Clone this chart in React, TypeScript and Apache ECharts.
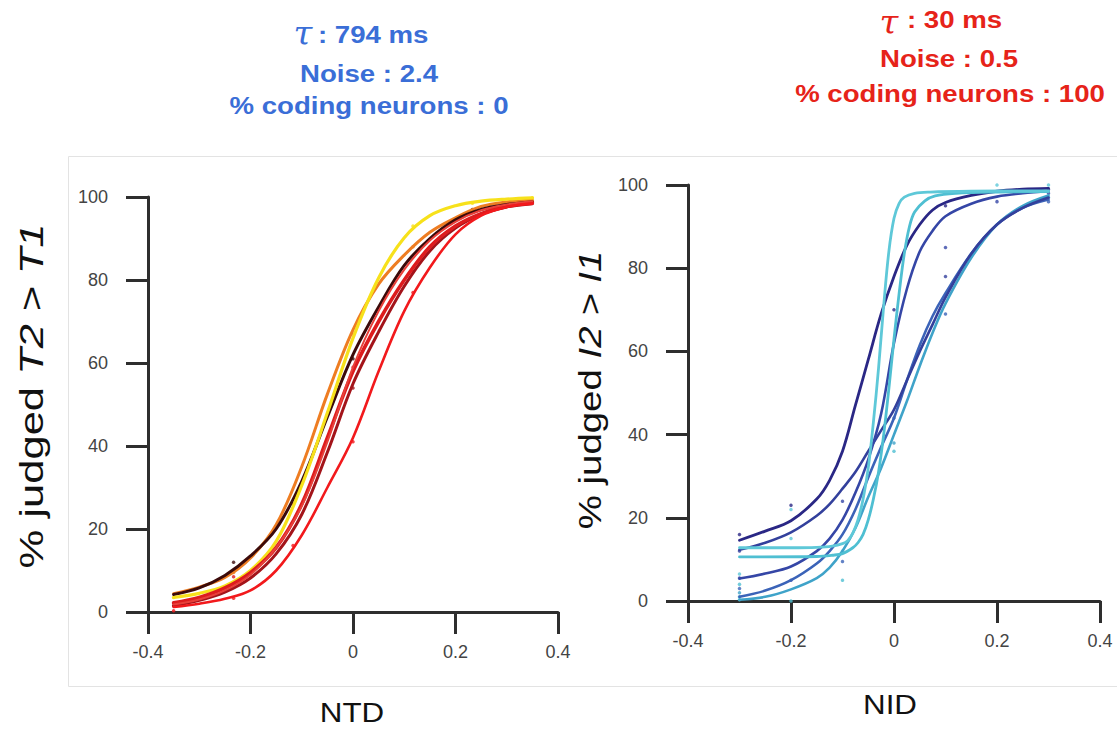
import React, { useEffect, useRef } from "react";
import * as echarts from "echarts";

// ---------------- data ----------------
const xTickLabels = ["-0.4", "-0.2", "0", "0.2", "0.4"];

// Left panel (NTD) – fitted curves sampled every 0.05
const ntdX = [-0.35, -0.3, -0.25, -0.2, -0.15, -0.1, -0.05, 0, 0.05, 0.1, 0.15, 0.2, 0.25, 0.3, 0.35];
const ntdOrange = [4.4, 6, 8.3, 13, 21, 35, 52.5, 68, 79, 86, 91.5, 95, 97.7, 98.8, 99.2];
const ntdBrown = [4.2, 5.8, 8.8, 13.5, 20, 31.5, 47, 62, 73.5, 83.5, 90, 94.5, 97, 98.2, 98.8];
const ntdYellow = [3.5, 4.5, 6.3, 10, 17, 30.5, 48, 66, 80.5, 90.2, 95.5, 97.9, 99, 99.5, 99.8];
const ntdMaroon = [1.5, 2.8, 4.8, 8.2, 14, 23.5, 38.5, 55, 67.5, 78.5, 87, 92.5, 95.8, 97.6, 98.4];
const ntdRed = [2.2, 3.5, 5.8, 9.5, 15.5, 26, 42, 58, 70, 80, 88, 93, 96, 97.8, 98.6];
const ntdThinRed = [1.8, 3, 5.2, 9, 15.5, 25.5, 41, 59, 72.5, 82.5, 89.5, 94, 96.8, 98.2, 99];
const ntdBrightRed = [1.2, 2, 3.2, 5.2, 10, 18.5, 30, 42, 58, 72.5, 83, 91, 95.5, 97.6, 98.4];

// Left panel raw points
const ntdDotX = [-0.35, -0.35, -0.35, -0.233, -0.233, -0.233, -0.233, -0.117, -0.117, 0, 0, 0, 0, 0, 0.117, 0.117, 0.117, 0.117, 0.233, 0.233, 0.35, 0.35];
const ntdDotY = [0.3, 3.5, 1.5, 12, 9.5, 8.5, 3.3, 26, 16, 67, 61, 59, 54, 41, 93, 88, 82, 77, 98.5, 97, 99.8, 99];
const ntdDotCurve = [6, 2, 3, 1, 0, 4, 6, 4, 6, 0, 1, 4, 3, 6, 2, 0, 4, 6, 2, 1, 2, 0];

// Right panel (NID) – gentle curves sampled on a shared grid
const nidX = [-0.3, -0.25, -0.2, -0.15, -0.125, -0.1, -0.075, -0.05, -0.025, 0, 0.025, 0.05, 0.075, 0.1, 0.15, 0.2, 0.25, 0.3];
const nidNavyA = [14.6, 16.8, 19.3, 24.5, 29, 36, 47, 58, 69, 78, 85.5, 90.5, 94, 95.8, 97.5, 98.5, 99, 99.2];
const nidNavyB = [12.3, 14, 16.5, 20.5, 23.3, 27, 31, 36, 41, 46, 53, 60, 66.5, 73, 83.5, 90.5, 94.5, 97];
const nidBlueE = [5.4, 6.6, 8.3, 12, 15, 19.5, 26, 34, 45, 62, 75, 84, 89, 92.5, 95.5, 97.2, 98, 98.5];
const nidBlueF = [1.0, 2.5, 5, 9, 12, 16, 22, 29.7, 37, 44, 53, 61.5, 68.5, 74, 83.5, 90.5, 94.5, 96.5];
const nidTealG = [0.3, 1, 2.8, 5.5, 8, 12, 17.5, 25, 32, 40, 48, 56.5, 64.5, 71.5, 82.5, 90.5, 95, 97.5];
// Right panel – steep cyan curves, [x, y] pairs
const nidCyanC = [[-0.3, 12.8], [-0.2, 12.8], [-0.15, 12.9], [-0.12, 13.2], [-0.1, 13.8], [-0.09, 14.5], [-0.08, 16.3], [-0.07, 19.5], [-0.06, 24.5], [-0.05, 32], [-0.04, 43], [-0.03, 56], [-0.02, 71], [-0.01, 84], [0, 92], [0.01, 95.6], [0.02, 97.1], [0.04, 98], [0.07, 98.3], [0.15, 98.5], [0.3, 98.6]];
const nidCyanD = [[-0.3, 10.6], [-0.15, 10.7], [-0.12, 11], [-0.1, 11.4], [-0.08, 12.8], [-0.07, 14], [-0.06, 16], [-0.05, 19.5], [-0.04, 24.5], [-0.03, 31], [-0.02, 40], [-0.01, 51], [0, 63], [0.01, 74], [0.02, 83.5], [0.03, 90], [0.04, 93.5], [0.06, 96.2], [0.08, 97.4], [0.12, 98], [0.2, 98.3], [0.3, 98.4]];

// Right panel raw points
const nidDotX = [-0.3, -0.3, -0.3, -0.3, -0.3, -0.3, -0.3, -0.3, -0.3, -0.2, -0.2, -0.2, -0.2, -0.2, -0.1, -0.1, -0.1, -0.1, 0, 0, 0, 0, 0.1, 0.1, 0.1, 0.1, 0.2, 0.2, 0.3, 0.3, 0.3, 0.3, 0.3];
const nidDotY = [16, 12, 6.5, 5.5, 4, 3, 2, 1, 0.3, 23, 22, 15, 5, 0, 24, 12, 9.5, 5, 70, 44, 38, 36, 95, 85, 78, 69, 100, 96, 100, 99, 98, 97, 96];
const nidDotCurve = [0, 1, 5, 2, 6, 3, 4, 4, 6, 0, 5, 5, 2, 6, 2, 5, 3, 6, 0, 3, 4, 6, 0, 2, 1, 3, 5, 2, 5, 0, 2, 4, 3];

// ---------------- styles ----------------
const leftColors = ["#ee7d22", "#3b0a0a", "#f7e11b", "#a3141a", "#dd1c1e", "#e8403a", "#f2191c"];
const leftWidths = [3, 3, 3.2, 3, 3.6, 2, 2.6];
const rightColors = ["#2a2785", "#33409c", "#3546a6", "#3b63b8", "#3fa3c9", "#5ec8d8", "#4fbfd2"];
const rightWidths = [2.8, 2.6, 2.6, 2.6, 2.6, 2.8, 2.8];

const AXIS = "#2e2e2e";
const SANS = "Liberation Sans, Arial, Helvetica, sans-serif";
const BLUE = "#3a6ed7";
const RED = "#e62319";

function pairs(xs: number[], ys: number[]) {
  return xs.map((x, i) => [x, ys[i]]);
}

function lineSeries(data: number[][], color: string, width: number, idx: number) {
  return {
    type: "line",
    xAxisIndex: idx,
    yAxisIndex: idx,
    data,
    smooth: 0.35,
    showSymbol: false,
    silent: true,
    lineStyle: { color, width, cap: "round", join: "round" },
  };
}

function dotSeries(xs: number[], ys: number[], curveIdx: number[], colors: string[], idx: number) {
  return {
    type: "scatter",
    xAxisIndex: idx,
    yAxisIndex: idx,
    symbolSize: 3.5,
    silent: true,
    data: xs.map((x, i) => ({ value: [x, ys[i]], itemStyle: { color: colors[curveIdx[i]] } })),
  };
}

function xAxis(idx: number) {
  return {
    gridIndex: idx,
    type: "value",
    min: -0.4,
    max: 0.4,
    interval: 0.2,
    axisLine: { show: true, onZero: false, lineStyle: { color: AXIS, width: 3 } },
    axisTick: { show: true, length: 22, lineStyle: { color: AXIS, width: 3 } },
    axisLabel: {
      color: "#444",
      fontSize: 18,
      fontFamily: SANS,
      margin: 31,
      formatter: (v: number) => xTickLabels[Math.round((v + 0.4) / 0.2)],
    },
    splitLine: { show: false },
  };
}

function yAxis(idx: number) {
  return {
    gridIndex: idx,
    type: "value",
    min: 0,
    max: 100,
    interval: 20,
    axisLine: { show: true, onZero: false, lineStyle: { color: AXIS, width: 3 } },
    axisTick: { show: true, length: 22, lineStyle: { color: AXIS, width: 3 } },
    axisLabel: { color: "#444", fontSize: 18, fontFamily: SANS, margin: 40 },
    splitLine: { show: false },
  };
}

function txt(x: number, y: number, text: string, opts: any = {}) {
  const { scaleX = 1, rotation = 0, align = "center", ...style } = opts;
  return {
    type: "text",
    x,
    y,
    scaleX,
    rotation,
    silent: true,
    style: { text, align, verticalAlign: "middle", fontFamily: SANS, ...style },
  };
}

function yTitle(x: number, y: number, text: string, size: number, stretch: number) {
  return {
    type: "text",
    x,
    y,
    scaleX: stretch,
    rotation: Math.PI / 2,
    silent: true,
    style: {
      text,
      align: "center",
      verticalAlign: "middle",
      fontFamily: SANS,
      fontSize: size,
      fill: "#111",
      rich: { i: { fontStyle: "italic", fontSize: size, fontFamily: SANS, fill: "#111" } },
    },
  };
}

export default function App() {
  const ref = useRef<HTMLDivElement>(null);

  useEffect(() => {
    const chart = echarts.init(ref.current!, null, { renderer: "svg" });

    const leftCurves = [ntdOrange, ntdBrown, ntdYellow, ntdMaroon, ntdRed, ntdThinRed, ntdBrightRed];
    const rightCurves = [nidNavyA, nidNavyB, nidBlueE, nidBlueF, nidTealG];
    const rightOrder = [4, 3, 1, 2, 0];

    const series: any[] = [];
    leftCurves.forEach((ys, i) => series.push(lineSeries(pairs(ntdX, ys), leftColors[i], leftWidths[i], 0)));
    series.push(dotSeries(ntdDotX, ntdDotY, ntdDotCurve, leftColors, 0));
    rightOrder.forEach((i) => series.push(lineSeries(pairs(nidX, rightCurves[i]), rightColors[i], rightWidths[i], 1)));
    series.push(lineSeries(nidCyanD, rightColors[6], rightWidths[6], 1));
    series.push(lineSeries(nidCyanC, rightColors[5], rightWidths[5], 1));
    series.push(dotSeries(nidDotX, nidDotY, nidDotCurve, rightColors, 1));

    const head = { fontSize: 24, fontWeight: "bold", scaleX: 1.15 };
    const tau = { fontSize: 34, fontFamily: "DejaVu Serif, serif", fontStyle: "italic" };

    const option: any = {
      animation: false,
      backgroundColor: "#ffffff",
      grid: [
        { left: 148, top: 197, width: 410, height: 415, containLabel: false },
        { left: 688, top: 185, width: 412, height: 416, containLabel: false },
      ],
      xAxis: [xAxis(0), xAxis(1)],
      yAxis: [yAxis(0), yAxis(1)],
      series,
      graphic: [
        {
          type: "rect",
          silent: true,
          z: -10,
          shape: { x: 68.5, y: 156.5, width: 1100, height: 530 },
          style: { fill: "none", stroke: "#e3e3e3", lineWidth: 1 },
        },
        // left header
        txt(303, 33, "τ", { ...tau, fill: BLUE }),
        txt(318, 34.5, ": 794 ms", { ...head, fill: BLUE, align: "left" }),
        txt(369, 73.5, "Noise : 2.4", { ...head, fill: BLUE }),
        txt(369, 105.5, "% coding neurons : 0", { ...head, fill: BLUE }),
        // right header
        txt(889, 22, "τ", { ...tau, fill: RED }),
        txt(907, 19.5, ": 30 ms", { ...head, fill: RED, align: "left" }),
        txt(949, 58.5, "Noise : 0.5", { ...head, fill: RED }),
        txt(950, 93.5, "% coding neurons : 100", { ...head, fill: RED }),
        // axis titles
        yTitle(31, 396, "% judged {i|T2 > T1}", 33, 1.32),
        yTitle(590, 390, "% judged {i|I2 > I1}", 32, 1.2),
        txt(352, 712, "NTD", { fontSize: 28, fill: "#111", scaleX: 1.12 }),
        txt(890, 704, "NID", { fontSize: 28, fill: "#111", scaleX: 1.12 }),
      ],
    };

    chart.setOption(option);
    return () => chart.dispose();
  }, []);

  return (
    <div
      ref={ref}
      style={{ position: "fixed", left: 0, top: 0, width: 1117, height: 730, background: "#fff" }}
    />
  );
}
